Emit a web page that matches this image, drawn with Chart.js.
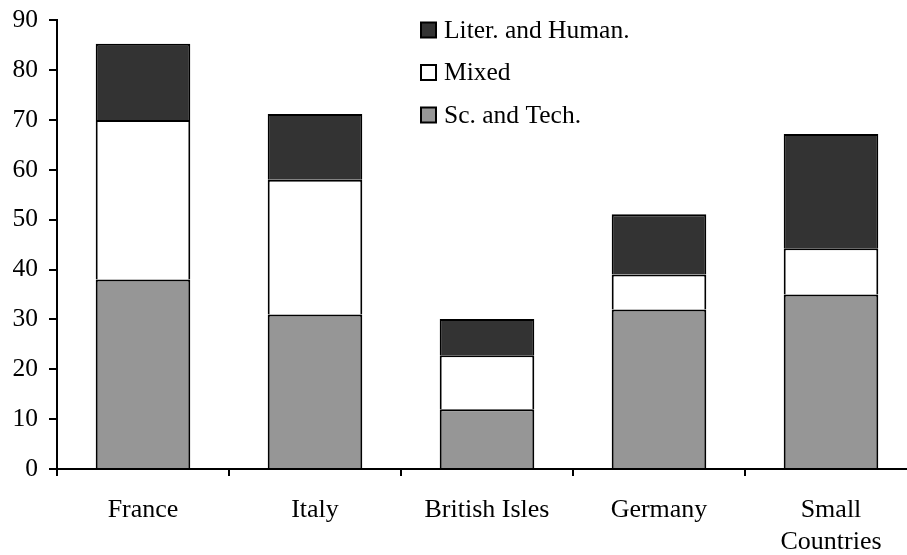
<!DOCTYPE html>
<html>
<head>
<meta charset="utf-8">
<script src="https://cdn.jsdelivr.net/npm/chart.js@4.4.1/dist/chart.umd.min.js"></script>
<style>
  html, body { margin: 0; padding: 0; background: #ffffff; overflow: hidden; }
  #wrap { position: relative; width: 925px; height: 561px; margin-top: -6px; }
</style>
</head>
<body>
<div id="wrap"><canvas id="c"></canvas></div>
<script>
const categories = ['France', 'Italy', 'British Isles', 'Germany', ['Small', 'Countries']];
const scTech = [38, 31, 12, 32, 35];
const mixed = [32, 27, 10.8, 7, 9.3];
const literHuman = [15.3, 13.2, 7.3, 12.1, 22.9];
const seriesNames = ['Sc. and Tech.', 'Mixed', 'Liter. and Human.'];
const yTicks = [0, 10, 20, 30, 40, 50, 60, 70, 80, 90];

const FONT = 'Liberation Serif';

const legendPlugin = {
  id: 'vertLegend',
  afterDraw(chart) {
    const ctx = chart.ctx;
    const ds = chart.data.datasets.slice().reverse();
    ctx.save();
    ctx.font = '25.5px "' + FONT + '"';
    ctx.textBaseline = 'middle';
    ctx.textAlign = 'left';
    ds.forEach((d, i) => {
      const cy = 36 + i * 42.5;
      ctx.fillStyle = d.backgroundColor;
      ctx.fillRect(421, cy - 7.5, 15, 15);
      ctx.lineWidth = 2;
      ctx.strokeStyle = '#000';
      ctx.strokeRect(421, cy - 7.5, 15, 15);
      ctx.fillStyle = '#000';
      ctx.fillText(d.label, 444, cy + 1);
    });
    ctx.restore();
  }
};

const bw = { top: 2, left: 2, right: 2, bottom: 0 };

new Chart(document.getElementById('c'), {
  type: 'bar',
  data: {
    labels: categories,
    datasets: [
      { label: seriesNames[0], data: scTech, backgroundColor: '#969696', borderColor: '#000', borderWidth: bw },
      { label: seriesNames[1], data: mixed, backgroundColor: '#ffffff', borderColor: '#000', borderWidth: bw },
      { label: seriesNames[2], data: literHuman, backgroundColor: '#333333', borderColor: '#000', borderWidth: bw }
    ]
  },
  options: {
    responsive: true,
    maintainAspectRatio: false,
    animation: false,
    devicePixelRatio: 1,
    layout: { padding: { top: 0, right: 8, left: 0, bottom: 0 } },
    datasets: { bar: { barPercentage: 0.55, categoryPercentage: 1.0 } },
    plugins: { legend: { display: false }, tooltip: { enabled: false } },
    scales: {
      x: {
        stacked: true,
        grid: { display: true, drawOnChartArea: false, drawTicks: true, tickLength: 7, color: '#000', lineWidth: 2, offset: true },
        border: { display: true, color: '#000', width: 2 },
        ticks: { color: '#000', font: { family: FONT, size: 26 }, padding: 19, maxRotation: 0, autoSkip: false },
        afterFit(scale) { scale.height = 86; }
      },
      y: {
        stacked: true,
        min: 0,
        max: 90,
        afterBuildTicks(scale) { scale.ticks = yTicks.map(v => ({ value: v })); },
        grid: { display: true, drawOnChartArea: false, drawTicks: true, tickLength: 8, color: '#000', lineWidth: 2 },
        border: { display: true, color: '#000', width: 2 },
        ticks: { color: '#000', font: { family: FONT, size: 25.5 }, padding: 11 },
        afterFit(scale) { scale.width = 57; }
      }
    }
  },
  plugins: [legendPlugin]
});
</script>
</body>
</html>
